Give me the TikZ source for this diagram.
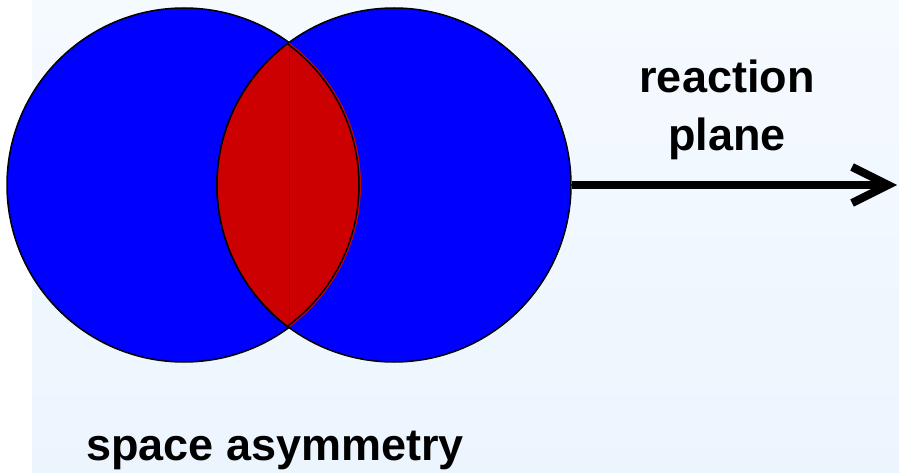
\documentclass[tikz,border=0pt]{standalone}
\usepackage{fontspec}
\setmainfont{Liberation Sans}
\usepackage{xcolor}
\usepackage{tikz}
\usetikzlibrary{arrows.meta,positioning,calc}

\definecolor{nucleusblue}{RGB}{0,0,255}
\definecolor{overlapred}{RGB}{204,0,0}
\definecolor{bgtop}{RGB}{245,250,255}
\definecolor{bgbottom}{RGB}{236,245,254}

\begin{document}
\begin{tikzpicture}[
  x=1pt, y=-1pt,
  every node/.style={font=\fontsize{45}{58}\selectfont\bfseries},
  nucleus/.style={circle, draw=black, line width=1.5pt, fill=nucleusblue,
                  minimum size=354pt, inner sep=0pt},
  rplane/.style={line width=8pt, -{Straight Barb[length=36pt, width=36pt]}},
]
\useasboundingbox (0,0) rectangle (899,473);
% --- background panel
\shade[top color=bgtop, bottom color=bgbottom] (32,0) rectangle (899,473);

% --- the two colliding nuclei
\node[nucleus] (left)  at (184,185) {};
\node[nucleus] (right) at (394,185) {};

% --- overlap zone
\begin{scope}
  \clip (184,185) circle (177);
  \draw[line width=1.5pt, fill=overlapred] (394,185) circle (177);
  \clip (394,185) circle (177);
  \draw[line width=1.5pt] (184,185) circle (175);
\end{scope}
\draw[line width=0.5pt, color=blue!55!red] (289,46) -- (289,325);

% --- reaction plane
\coordinate (tip) at (897,185);
\draw[rplane] (right.east) -- (tip);
\node[align=center] (rplabel) at (727,110) {reaction\\plane};

% --- caption
\node[anchor=base] (caption) at (275,460) {space asymmetry};
\end{tikzpicture}
\end{document}
